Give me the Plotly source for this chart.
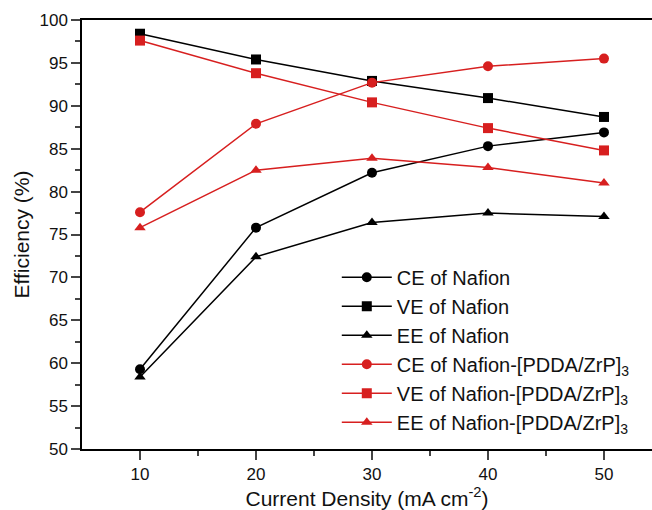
import plotly.graph_objects as go

current_density = [10, 20, 30, 40, 50]

ce_nafion = [59.3, 75.8, 82.2, 85.3, 86.9]
ve_nafion = [98.4, 95.4, 92.9, 90.9, 88.7]
ee_nafion = [58.4, 72.4, 76.4, 77.5, 77.1]
ce_pdda = [77.6, 87.9, 92.7, 94.6, 95.5]
ve_pdda = [97.6, 93.8, 90.4, 87.4, 84.8]
ee_pdda = [75.8, 82.5, 83.9, 82.8, 81.0]

x_ticks = [10, 20, 30, 40, 50]
y_ticks = [50, 55, 60, 65, 70, 75, 80, 85, 90, 95, 100]

BLACK = "#000000"
RED = "#d71f1f"

series = [
    ("CE of Nafion", ce_nafion, BLACK, "circle"),
    ("VE of Nafion", ve_nafion, BLACK, "square"),
    ("EE of Nafion", ee_nafion, BLACK, "triangle-up"),
    ("CE of Nafion-[PDDA/ZrP]<sub>3</sub>", ce_pdda, RED, "circle"),
    ("VE of Nafion-[PDDA/ZrP]<sub>3</sub>", ve_pdda, RED, "square"),
    ("EE of Nafion-[PDDA/ZrP]<sub>3</sub>", ee_pdda, RED, "triangle-up"),
]

fig = go.Figure()
for name, vals, color, sym in series:
    fig.add_trace(go.Scatter(
        x=current_density, y=vals, name=name, mode="lines+markers",
        line=dict(color=color, width=1.5),
        marker=dict(symbol=sym, size=10, color=color, line=dict(width=0)),
    ))

font_family = "Liberation Sans, Arial, sans-serif"
fig.update_layout(
    width=652, height=510,
    margin=dict(l=82, r=0, t=20, b=61),
    paper_bgcolor="white", plot_bgcolor="white",
    font=dict(family=font_family, color="#111", size=17),
    showlegend=True,
    legend=dict(x=0.447, y=0.446, xanchor="left", yanchor="top",
                bgcolor="rgba(0,0,0,0)", font=dict(size=20),
                tracegroupgap=0, itemwidth=50),
    xaxis=dict(
        range=[5, 54.14], tickvals=x_ticks, ticks="outside", ticklen=9, tickwidth=1.5,
        showline=True, linecolor="black", linewidth=1.5, mirror=True,
        showgrid=False, zeroline=False, tickfont=dict(size=17),
        minor=dict(tickvals=[15, 25, 35, 45], ticks="outside", ticklen=5, tickwidth=1.5),
        title=dict(text="Current Density (mA cm<sup>-2</sup>)", font=dict(size=21), standoff=4),
    ),
    yaxis=dict(
        range=[50, 100], tickvals=y_ticks, ticks="outside", ticklen=9, tickwidth=1.5,
        showline=True, linecolor="black", linewidth=1.5,
        showgrid=False, zeroline=False, tickfont=dict(size=17),
        minor=dict(dtick=2.5, ticks="outside", ticklen=5, tickwidth=1.5),
        title=dict(text="Efficiency (%)", font=dict(size=21), standoff=4),
    ),
)

fig.write_html("out.html")
